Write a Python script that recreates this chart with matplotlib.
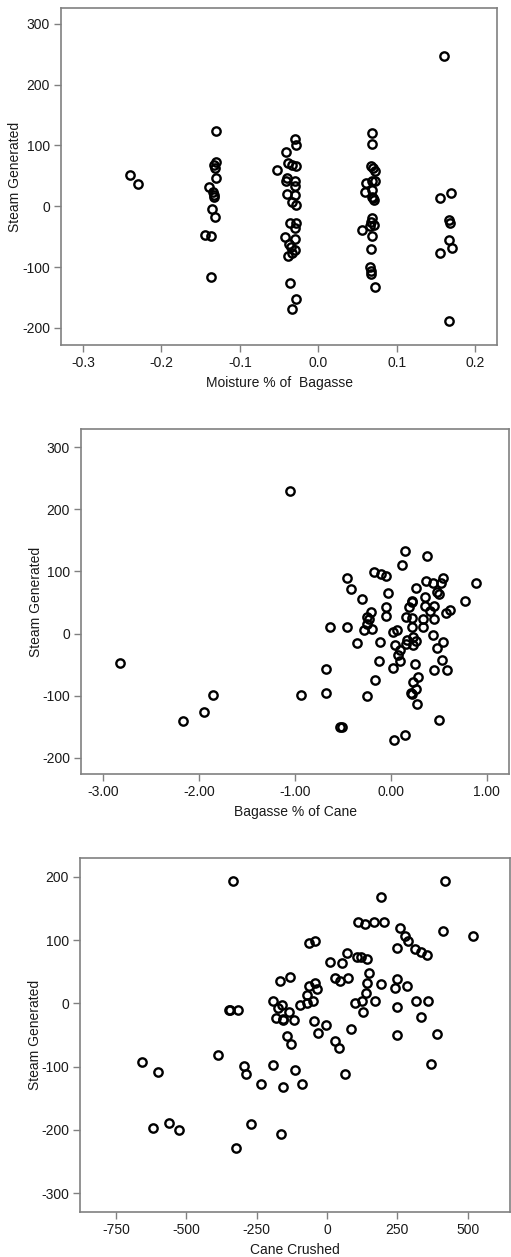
import matplotlib
matplotlib.use("Agg")
import matplotlib.pyplot as plt

plt.rcParams['font.family'] = ['Liberation Sans', 'DejaVu Sans']

# Panel 1: Moisture % of Bagasse vs Steam Generated
moist_x = [-0.240, -0.230,
           -0.130, -0.130, -0.133, -0.131, -0.130, -0.139, -0.134, -0.133, -0.133,
           -0.135, -0.132, -0.145, -0.137, -0.137,
           -0.030, -0.028, -0.041, -0.052, -0.038, -0.034, -0.028, -0.040, -0.041,
           -0.030, -0.030, -0.040, -0.030, -0.034, -0.028, -0.036, -0.028, -0.030,
           -0.042, -0.030, -0.037, -0.035, -0.030, -0.034, -0.038, -0.036, -0.028, -0.033,
           0.068, 0.069, 0.067, 0.070, 0.072, 0.061, 0.072, 0.068, 0.060, 0.068,
           0.069, 0.071, 0.070, 0.068, 0.067, 0.071, 0.066, 0.056, 0.069, 0.067,
           0.066, 0.067, 0.067, 0.072,
           0.160, 0.155, 0.169, 0.167, 0.168, 0.167, 0.170, 0.155, 0.167]
moist_y = [52, 37,
           123, 73, 68, 63, 47, 32, 23, 18, 15,
           -4, -17, -47, -49, -116,
           111, 100, 90, 59, 71, 68, 67, 47, 41,
           41, 33, 21, 18, 7, 2, -27, -27, -36,
           -50, -54, -62, -67, -72, -77, -81, -126, -152, -168,
           121, 103, 66, 63, 58, 38, 41, 41, 23, 27,
           16, 11, 13, -19, -25, -30, -32, -39, -48, -70,
           -100, -107, -112, -132,
           247, 14, 22, -22, -28, -56, -68, -76, -188]

# Panel 2: Bagasse % of Cane vs Steam Generated
bag_x = [-1.052, -0.46, -0.42, -0.305, -0.18, -0.107, -0.052, -0.028, 0.11, 0.146,
         0.26, 0.215, 0.38, 0.365, 0.44, 0.476, 0.50, 0.52, 0.54, 0.354, 0.77, 0.885,
         -0.05, -0.05, -0.21, -0.25, -0.23, -0.25, -0.28, -0.20, -0.635, -0.455,
         -0.357, -0.115, -0.12, -0.167, -0.253, 0.017, 0.06, 0.04, 0.094, 0.076,
         0.094, 0.017, 0.215, 0.19, 0.156, 0.215, 0.215, 0.23, 0.163, 0.26, 0.156,
         0.225, 0.25, 0.284, 0.23, 0.26, 0.205, 0.215, 0.274, 0.146, 0.03,
         0.448, 0.354, 0.406, 0.337, 0.448, 0.337, 0.434, 0.48, 0.54, 0.53,
         0.448, 0.586, 0.573, 0.61, 0.50,
         -2.82, -1.85, -1.95, -2.17, -0.94, -0.677, -0.677, -0.53, -0.51]
bag_y = [229, 90, 71, 56, 99, 95, 92, 65, 111, 133,
         73, 53, 124, 85, 81, 66, 64, 82, 89, 59, 53, 81,
         42, 28, 34, 26, 24, 16, 5, 8, 11, 11,
         -16, -13, -44, -74, -101, 2, 5, -19, -27, -35,
         -45, -55, 50, 42, 26, 25, 10, -5, -10, -12, -17,
         -18, -49, -70, -78, -89, -96, -98, -114, -164, -172,
         45, 45, 37, 24, 24, 10, -2, -23, -14, -43,
         -58, -58, 33, 38, -139,
         -48, -99, -127, -140, -99, -57, -96, -150, -150]

# Panel 3: Cane Crushed vs Steam Generated
cane_x = [-336, 419, 191, 111, 135, 167, 202, 259, 277, 289, 411, 517,
          247, 313, 333, 354, -63, -43, 11, 52, 72, 108, 120, 141,
          150, 143, 191, 139, 170, 247, 241, 285, 247, 316, 360, 335, 250, 392,
          28, 46, 76, 99, 123, 127, 84, -167, -131,
          -66, -43, -37, -70, -72, -51, -98, -193, -173, -161, -181, -157, -155,
          -134, -117, -46, -4, -31, -141, -129, 28, 44,
          -350, -346, -315,
          -658, -601, -386, -297, -288, -191, -114, -235, -155, -88, 64, 368,
          -619, -561, -526, -270, -164, -324]
cane_y = [194, 194, 168, 129, 126, 129, 128, 120, 106, 98, 114, 107,
          87, 86, 81, 77, 96, 98, 66, 64, 80, 73, 73, 71,
          48, 32, 31, 17, 4, 39, 25, 27, -6, 4, 4, -22, -50, -48,
          40, 36, 40, 0, 3, -13, -40, 36, 41,
          28, 32, 23, 14, 0, 3, -2, 4, -7, -3, -23, -24, -27,
          -13, -27, -28, -34, -47, -51, -64, -59, -71,
          -10, -10, -10,
          -93, -108, -81, -99, -111, -98, -106, -127, -133, -127, -112, -96,
          -197, -189, -200, -190, -207, -228]

W, H = 511, 1257
fig = plt.figure(figsize=(W / 100, H / 100), dpi=100)

spine_col = '#808080'
text_col = '#1a1a1a'
tick_kw = dict(labelsize=10, length=5, width=1.0, color=spine_col, direction='out',
               labelcolor=text_col, pad=3)


def make_panel(rect, x, y, xlim, ylim, xticks, yticks, xfmt, xlabel, ylabel_x):
    ax = fig.add_axes(rect)
    ax.plot(x, y, linestyle='none', marker='o', markersize=6, markerfacecolor='none',
            markeredgecolor='black', markeredgewidth=1.7)
    ax.set_xlim(*xlim)
    ax.set_ylim(*ylim)
    ax.set_xticks(xticks)
    ax.set_yticks(yticks)
    ax.set_xticklabels([xfmt(v) for v in xticks])
    ax.set_yticklabels([f"{v:d}" for v in yticks])
    for s in ax.spines.values():
        s.set_color(spine_col)
        s.set_linewidth(1.2)
    ax.tick_params(axis='both', **tick_kw)
    ax.set_xlabel(xlabel, fontsize=10, color=text_col, labelpad=4)
    ax.set_ylabel('Steam Generated', fontsize=10, color=text_col)
    ax.yaxis.set_label_coords(ylabel_x, 0.5)
    return ax


make_panel([61 / W, 1 - 345 / H, 436 / W, 337 / H], moist_x, moist_y,
           (-0.328, 0.228), (-228, 326),
           [-0.3, -0.2, -0.1, 0.0, 0.1, 0.2], [-200, -100, 0, 100, 200, 300],
           lambda v: f"{v:.1f}", 'Moisture % of  Bagasse', -0.089)

make_panel([81 / W, 1 - 774 / H, 428 / W, 345 / H], bag_x, bag_y,
           (-3.23, 1.23), (-226, 329),
           [-3.0, -2.0, -1.0, 0.0, 1.0], [-200, -100, 0, 100, 200, 300],
           lambda v: f"{v:.2f}", 'Bagasse % of Cane', -0.089)

make_panel([80 / W, 1 - 1212 / H, 430 / W, 354 / H], cane_x, cane_y,
           (-878, 650), (-330, 230),
           [-750, -500, -250, 0, 250, 500], [-300, -200, -100, 0, 100, 200],
           lambda v: f"{int(v):d}", 'Cane Crushed', -0.088)

fig.savefig('out.png', dpi=100)
